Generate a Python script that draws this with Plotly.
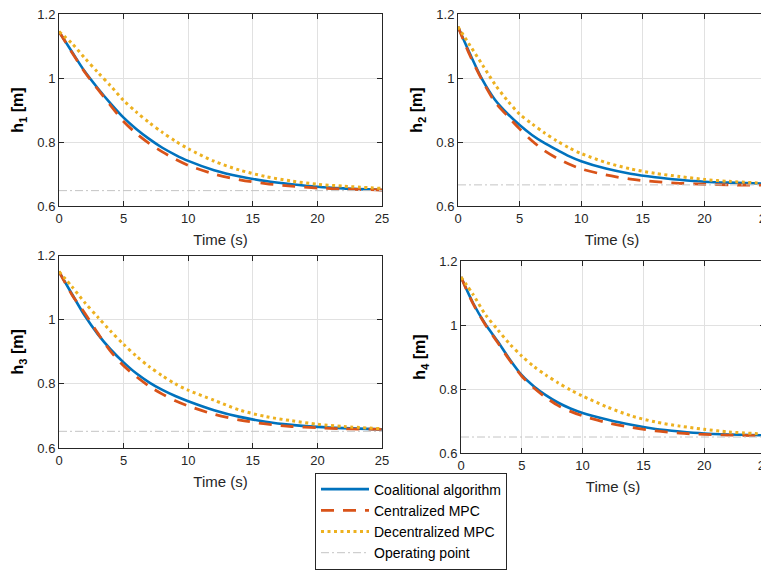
import plotly.graph_objects as go

# ---------------- data ----------------
t = [0, 1, 2, 3, 4, 5, 6, 7, 8, 9, 10, 12, 14, 16, 18, 20, 22, 25]
t_op = [0, 25]

h1_coal = [1.145, 1.082, 1.020, 0.968, 0.920, 0.876, 0.840, 0.809, 0.782, 0.760, 0.741, 0.712, 0.692, 0.678, 0.668, 0.660, 0.655, 0.650]
h1_cent = [1.145, 1.080, 1.018, 0.965, 0.914, 0.864, 0.826, 0.795, 0.769, 0.746, 0.727, 0.700, 0.682, 0.670, 0.662, 0.656, 0.653, 0.650]
h1_dec = [1.145, 1.108, 1.062, 1.018, 0.975, 0.930, 0.893, 0.860, 0.830, 0.803, 0.779, 0.740, 0.712, 0.692, 0.678, 0.668, 0.662, 0.655]
h1_op = 0.648

h2_coal = [1.160, 1.073, 0.993, 0.932, 0.889, 0.853, 0.822, 0.797, 0.776, 0.756, 0.740, 0.717, 0.701, 0.690, 0.682, 0.676, 0.673, 0.670]
h2_cent = [1.160, 1.068, 0.990, 0.925, 0.882, 0.841, 0.804, 0.773, 0.750, 0.731, 0.716, 0.697, 0.684, 0.676, 0.671, 0.668, 0.666, 0.665]
h2_dec = [1.160, 1.100, 1.040, 0.980, 0.930, 0.887, 0.857, 0.829, 0.804, 0.782, 0.764, 0.736, 0.716, 0.702, 0.692, 0.683, 0.677, 0.671]
h2_op = 0.666

h3_coal = [1.150, 1.080, 1.012, 0.955, 0.907, 0.867, 0.832, 0.804, 0.781, 0.762, 0.746, 0.718, 0.697, 0.682, 0.672, 0.666, 0.662, 0.658]
h3_cent = [1.150, 1.078, 1.020, 0.958, 0.901, 0.856, 0.822, 0.792, 0.768, 0.747, 0.731, 0.705, 0.687, 0.675, 0.667, 0.663, 0.660, 0.658]
h3_dec = [1.150, 1.103, 1.053, 1.008, 0.964, 0.923, 0.886, 0.853, 0.825, 0.800, 0.780, 0.749, 0.718, 0.698, 0.685, 0.674, 0.667, 0.660]
h3_op = 0.652

h4_coal = [1.150, 1.068, 1.003, 0.950, 0.893, 0.843, 0.808, 0.780, 0.757, 0.739, 0.725, 0.705, 0.688, 0.675, 0.667, 0.661, 0.658, 0.655]
h4_cent = [1.150, 1.066, 1.001, 0.946, 0.890, 0.840, 0.803, 0.773, 0.748, 0.730, 0.716, 0.695, 0.680, 0.669, 0.662, 0.658, 0.656, 0.654]
h4_dec = [1.150, 1.095, 1.033, 0.986, 0.941, 0.903, 0.870, 0.843, 0.819, 0.797, 0.778, 0.744, 0.716, 0.697, 0.684, 0.674, 0.666, 0.659]
h4_op = 0.650

series_names = ["Coalitional algorithm", "Centralized MPC", "Decentralized MPC", "Operating point"]
y_titles = ["h<sub>1</sub> [m]", "h<sub>2</sub> [m]", "h<sub>3</sub> [m]", "h<sub>4</sub> [m]"]
x_ticks = [0, 5, 10, 15, 20, 25]
y_ticks = [0.6, 0.8, 1.0, 1.2]
y_ticktext = ["0.6", "0.8", "1", "1.2"]

panels = [
    (h1_coal, h1_cent, h1_dec, h1_op),
    (h2_coal, h2_cent, h2_dec, h2_op),
    (h3_coal, h3_cent, h3_dec, h3_op),
    (h4_coal, h4_cent, h4_dec, h4_op),
]

# ---------------- styling ----------------
OFF = 8  # page body margin offset
W, H = 769 - OFF, 571 - OFF
FONT = "Liberation Sans, Arial, sans-serif"
AX = "#262626"
colors = ["#0072BD", "#D95319", "#EDB120", "#c4c4c4"]
dashes = ["solid", "13px,9px", "3px,3.5px", "8px,3px,2px,3px"]
widths = [2.6, 2.8, 3.0, 1.0]

# pixel boxes in page coords (left, right, top, bottom)
boxes = [
    (59, 382, 14, 206),
    (458, 766, 14, 206),
    (59, 382, 255.5, 448),
    (461, 765, 261, 453),
]

def px_x(v):
    return (v - OFF) / W

def px_y(v):
    return 1 - (v - OFF) / H

fig = go.Figure()
layout = dict(
    width=W, height=H,
    margin=dict(l=0, r=0, t=0, b=0, autoexpand=False),
    paper_bgcolor="white", plot_bgcolor="white",
    font=dict(family=FONT, color=AX),
    showlegend=True,
    legend=dict(
        x=px_x(315), y=px_y(569.5), xanchor="left", yanchor="bottom",
        bordercolor=AX, borderwidth=1, bgcolor="white",
        font=dict(family=FONT, size=14, color="#000000"),
        tracegroupgap=0, itemwidth=48,
    ),
)

for i, (coal, cent, dec, op) in enumerate(panels):
    sfx = "" if i == 0 else str(i + 1)
    l, r, tp, bt = boxes[i]
    ys = [coal, cent, dec]
    for k in range(3):
        fig.add_trace(go.Scatter(
            x=t, y=ys[k], mode="lines", name=series_names[k],
            line=dict(color=colors[k], width=widths[k], dash=dashes[k], shape="spline", smoothing=0.8),
            xaxis="x" + sfx, yaxis="y" + sfx, showlegend=(i == 0), legendrank=k + 1,
        ))
    fig.add_trace(go.Scatter(
        x=t_op, y=[op, op], mode="lines", name=series_names[3],
        line=dict(color=colors[3], width=widths[3], dash=dashes[3]),
        xaxis="x" + sfx, yaxis="y" + sfx, showlegend=(i == 0), legendrank=4,
    ))
    common = dict(
        showline=True, linecolor=AX, linewidth=1, mirror="allticks",
        ticks="inside", ticklen=5, tickcolor=AX, tickwidth=1,
        showgrid=True, gridcolor="#e1e1e1", gridwidth=1, zeroline=False,
        automargin=False, ticklabeloverflow="allow",
        tickfont=dict(family=FONT, size=13, color=AX),
    )
    layout["xaxis" + sfx] = dict(
        common, domain=[px_x(l), min(px_x(r), 1.0)], range=[0, 25], tickvals=x_ticks,
        anchor="y" + sfx,
        title=dict(text="Time (s)", font=dict(family=FONT, size=15, color=AX), standoff=9),
    )
    layout["yaxis" + sfx] = dict(
        common, domain=[px_y(bt), px_y(tp)], range=[0.6, 1.2],
        tickvals=y_ticks, ticktext=y_ticktext, anchor="x" + sfx,
        title=dict(text="<b>" + y_titles[i] + "</b>", font=dict(family=FONT, size=16, color="#000000"), standoff=9),
    )

fig.update_layout(**layout)
fig.write_html("out.html")
